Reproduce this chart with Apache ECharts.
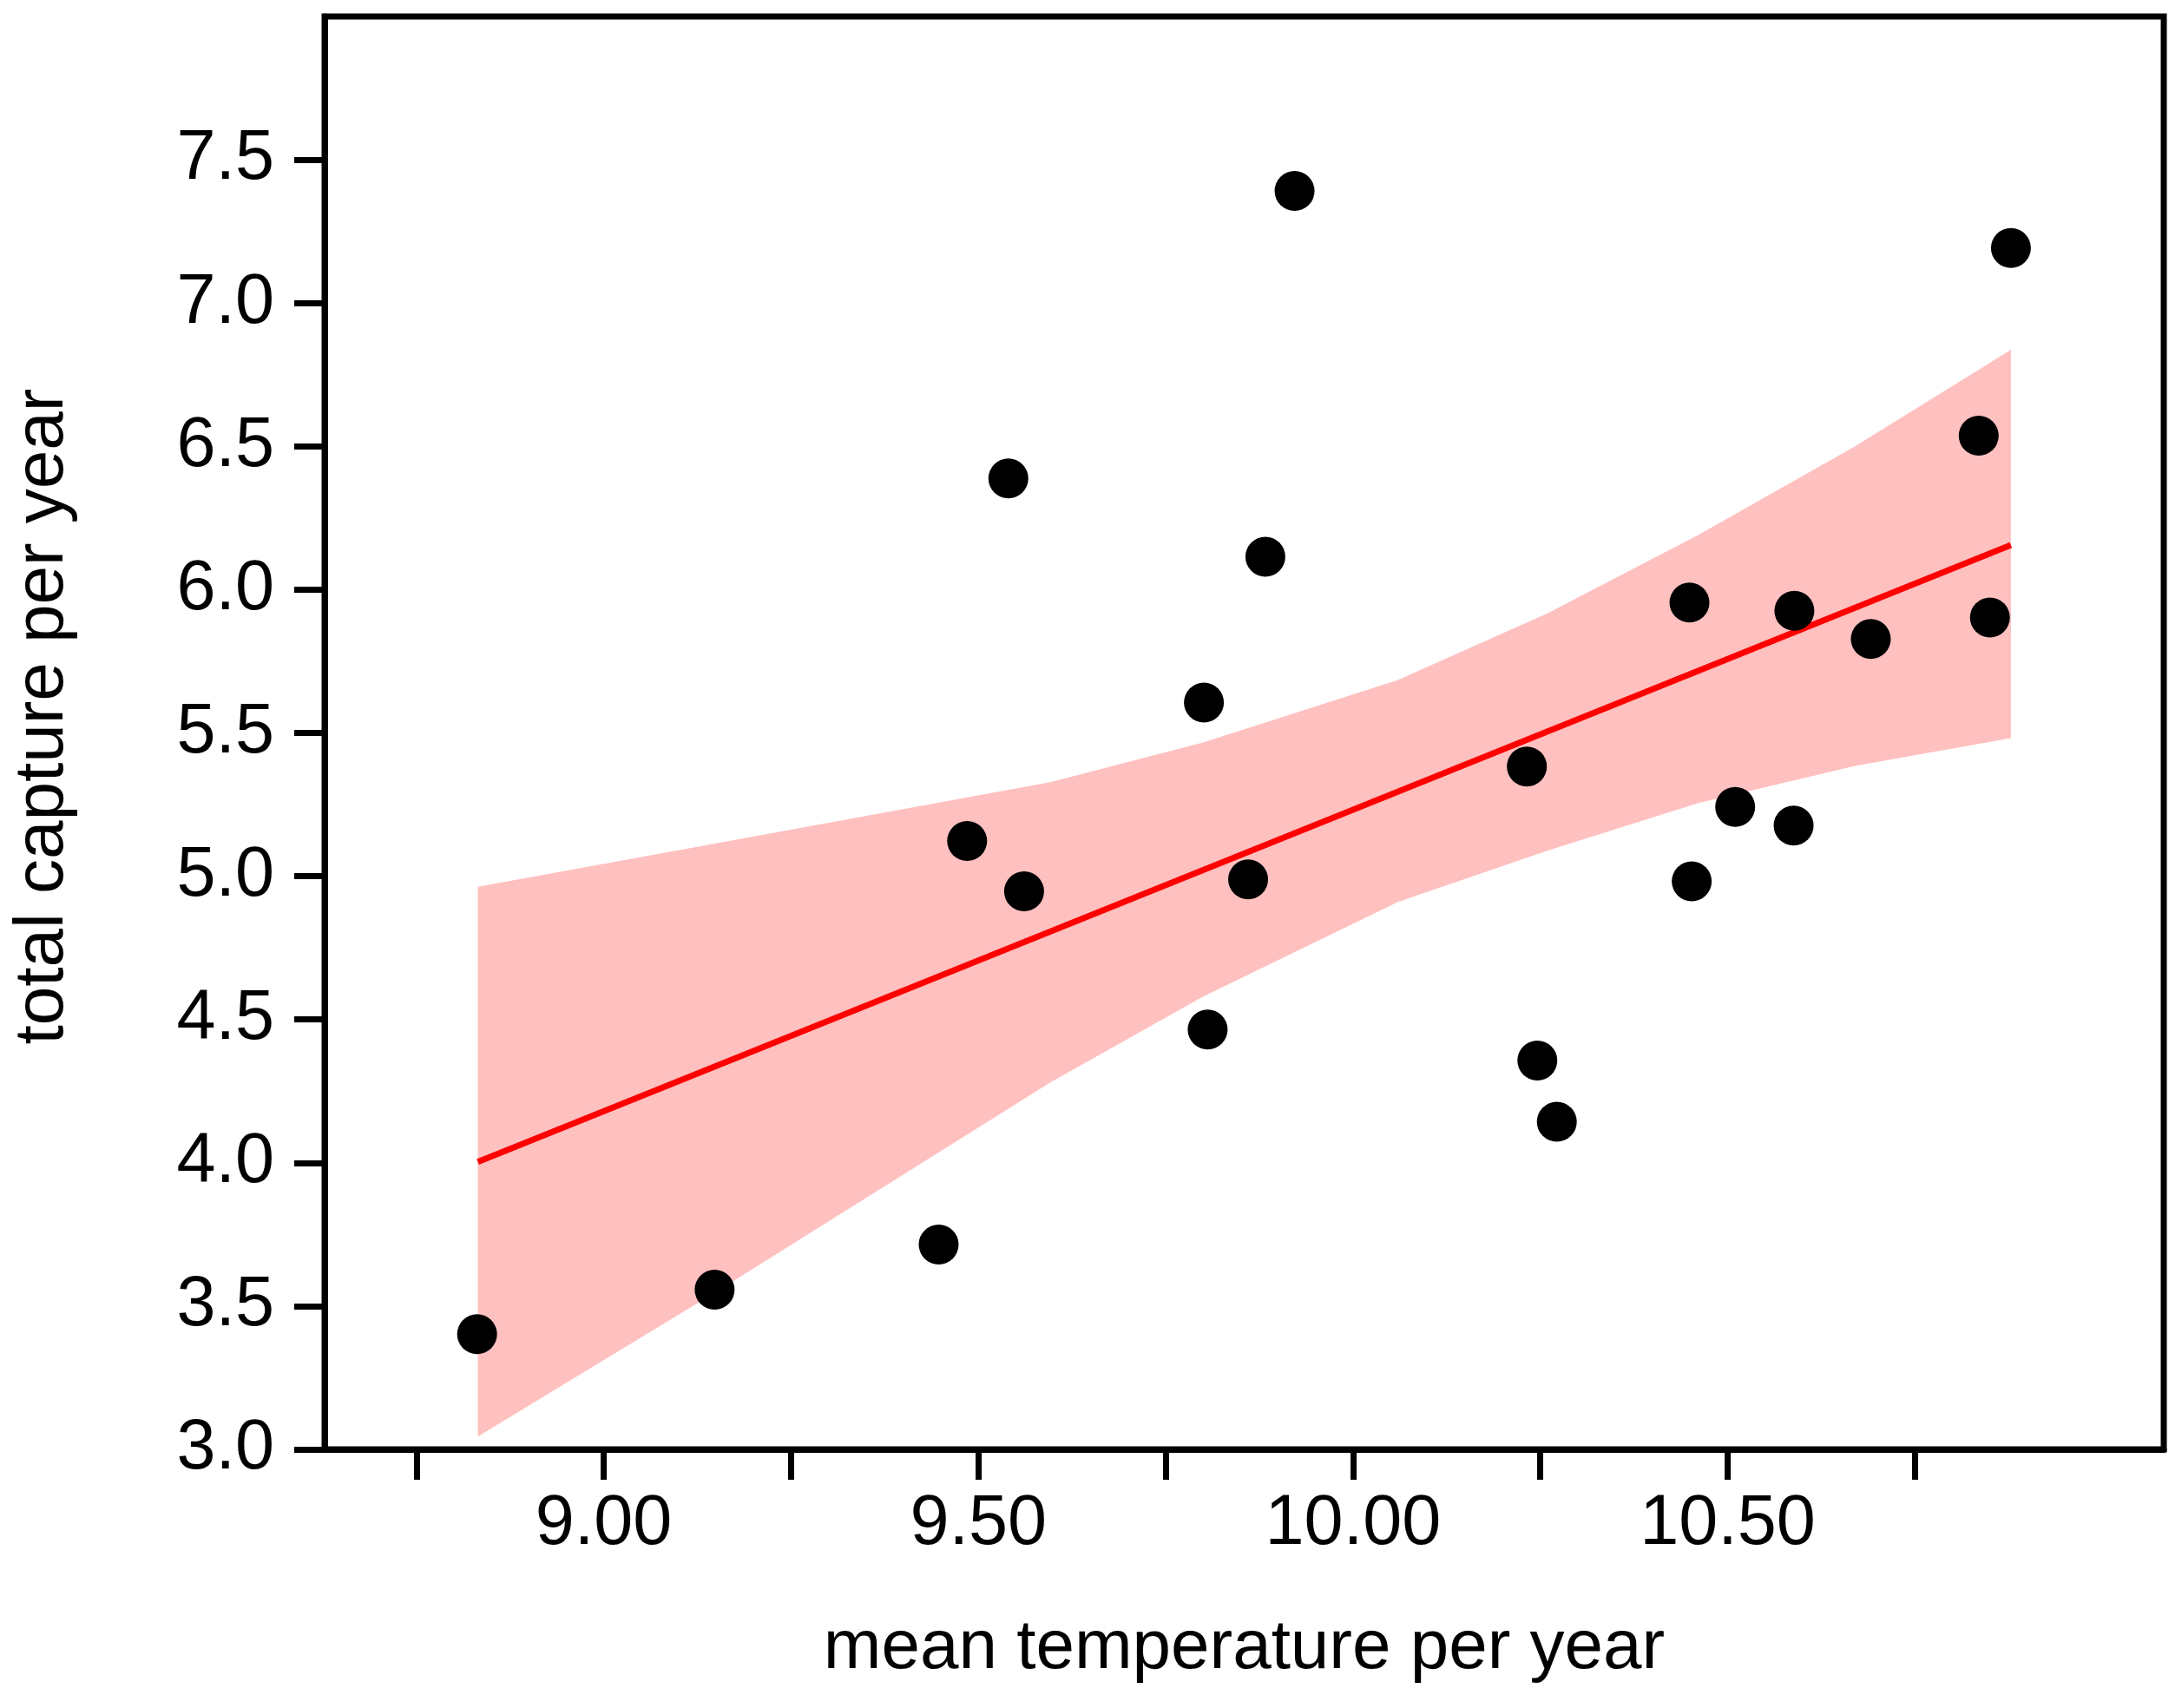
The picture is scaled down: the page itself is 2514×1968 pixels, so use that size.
<!DOCTYPE html>
<html>
<head>
<meta charset="utf-8">
<script src="https://cdn.jsdelivr.net/npm/echarts@6/dist/echarts.min.js"></script>
<style>
html,body{margin:0;padding:0;background:#fff;}
#chart{width:2514px;height:1968px;}
</style>
</head>
<body>
<div id="chart"></div>
<script>
// Observed data (mean temperature per year, total capture per year)
const temperature = [8.831, 9.148, 9.447, 9.485, 9.540, 9.561, 9.801, 9.806, 9.860, 9.883, 9.922, 10.232, 10.246, 10.272, 10.449, 10.452, 10.510, 10.589, 10.588, 10.691, 10.835, 10.850, 10.878];
const capture     = [3.402, 3.557, 3.715, 5.123, 6.388, 4.947, 5.606, 4.465, 4.989, 6.115, 7.391, 5.383, 4.357, 4.143, 5.955, 4.982, 5.242, 5.926, 5.177, 5.828, 6.537, 5.903, 7.192];

// Fitted regression line end points
const fitX = [8.832, 10.878];
const fitY = [4.003, 6.156];

// Confidence band
const bandX    = [8.832, 9.15, 9.596, 9.80, 10.06, 10.26, 10.46, 10.67, 10.878];
const bandLow  = [3.045, 3.55, 4.28, 4.58, 4.91, 5.09, 5.255, 5.385, 5.482];
const bandHigh = [4.963, 5.115, 5.328, 5.467, 5.685, 5.918, 6.19, 6.50, 6.837];

// Axis ticks / labels
const xTicks  = [8.75, 9.0, 9.25, 9.5, 9.75, 10.0, 10.25, 10.5, 10.75];
const xLabels = [9.0, 9.5, 10.0, 10.5];
const yTicks  = [3.0, 3.5, 4.0, 4.5, 5.0, 5.5, 6.0, 6.5, 7.0, 7.5];

const FONT = '"Liberation Sans", Arial, Helvetica, sans-serif';

const chart = echarts.init(document.getElementById('chart'), null, {renderer: 'canvas'});

const option = {
  animation: false,
  backgroundColor: '#ffffff',
  grid: {
    left: 374, right: 21, top: 19, bottom: 298,
    show: true, borderColor: '#000', borderWidth: 7, backgroundColor: 'transparent',
    containLabel: false
  },
  xAxis: {
    type: 'value',
    min: 8.6275, max: 11.082,
    name: 'mean temperature per year',
    nameLocation: 'middle',
    nameGap: 190,
    nameTextStyle: {fontFamily: FONT, fontSize: 80, color: '#000'},
    axisLine: {show: true, onZero: false, lineStyle: {color: '#000', width: 7}},
    axisTick: {show: true, inside: false, length: 35, customValues: xTicks, lineStyle: {color: '#000', width: 7}},
    axisLabel: {show: true, customValues: xLabels, margin: 46, fontFamily: FONT, fontSize: 81, color: '#000',
      formatter: v => Number(v).toFixed(2)},
    splitLine: {show: false}
  },
  yAxis: {
    type: 'value',
    min: 3, max: 8,
    name: 'total capture per year',
    nameLocation: 'middle',
    nameGap: 284,
    nameTextStyle: {fontFamily: FONT, fontSize: 80, color: '#000', padding: [0, 0, 0, 38]},
    axisLine: {show: true, onZero: false, lineStyle: {color: '#000', width: 7}},
    axisTick: {show: true, inside: false, length: 35, customValues: yTicks, lineStyle: {color: '#000', width: 7}},
    axisLabel: {show: true, customValues: yTicks, margin: 58, fontFamily: FONT, fontSize: 81, color: '#000',
      formatter: v => Number(v).toFixed(1)},
    splitLine: {show: false}
  },
  series: [
    {
      type: 'custom',
      name: 'band',
      z: 1,
      silent: true,
      data: bandX.map((x, i) => [x, bandLow[i], bandHigh[i]]),
      renderItem: function (params, api) {
        if (params.dataIndex !== 0) return null;
        const pts = [];
        for (let i = 0; i < bandX.length; i++) pts.push(api.coord([bandX[i], bandHigh[i]]));
        for (let i = bandX.length - 1; i >= 0; i--) pts.push(api.coord([bandX[i], bandLow[i]]));
        return {type: 'polygon', shape: {points: pts}, style: {fill: '#ffc0c0', stroke: null}};
      }
    },
    {
      type: 'line',
      name: 'fit',
      z: 2,
      data: fitX.map((x, i) => [x, fitY[i]]),
      showSymbol: false,
      symbol: 'none',
      lineStyle: {color: '#ff0000', width: 7}
    },
    {
      type: 'scatter',
      name: 'observed',
      z: 3,
      data: temperature.map((x, i) => [x, capture[i]]),
      symbol: 'circle',
      symbolSize: 46,
      itemStyle: {color: '#000', opacity: 1}
    }
  ]
};
chart.setOption(option);
</script>
</body>
</html>
